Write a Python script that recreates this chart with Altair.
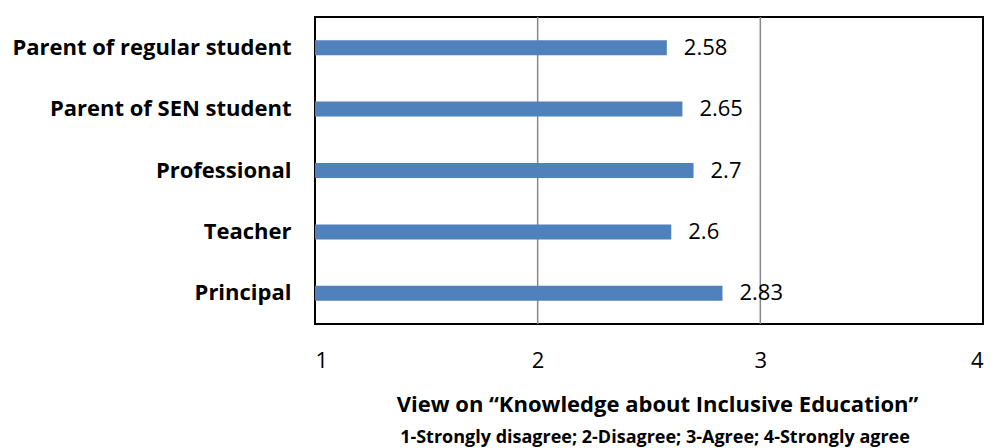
import altair as alt
import pandas as pd

categories = ["Parent of regular student", "Parent of SEN student", "Professional", "Teacher", "Principal"]
values = [2.58, 2.65, 2.7, 2.6, 2.83]
value_labels = ["2.58", "2.65", "2.7", "2.6", "2.83"]
grid_values = [2, 3]
tick_values = [1, 2, 3, 4]

df = pd.DataFrame({"group": categories, "value": values, "label": value_labels})
grid_df = pd.DataFrame({"g": grid_values})

FONT = "Open Sans"

xscale = alt.Scale(domain=[1, 4], nice=False, zero=False)
yscale = alt.Scale(domain=categories, paddingInner=0.75, paddingOuter=0.375)

base = alt.Chart(df)

grid = alt.Chart(grid_df).mark_rule(color="#868686", strokeWidth=1.5).encode(
    x=alt.X("g:Q", scale=xscale)
)

bars = base.mark_bar(color="#4F81BD", size=15).encode(
    x=alt.X("value:Q", scale=xscale,
            axis=alt.Axis(values=tick_values, grid=False, domain=False, ticks=False,
                          labelFont=FONT, labelFontSize=22, labelColor="black",
                          labelPadding=26, format="d",
                          title="View on \u201cKnowledge about Inclusive Education\u201d",
                          titleFont=FONT, titleFontSize=22, titleFontWeight="bold",
                          titleColor="black", titlePadding=23, titleX=342,
                          titleAlign="center")),
    x2=alt.datum(1),
    y=alt.Y("group:N", scale=yscale, sort=categories,
            axis=alt.Axis(title=None, domain=False, ticks=False, labelPadding=24,
                          labelFont=FONT, labelFontSize=22, labelFontWeight="bold",
                          labelColor="black", labelLimit=400)),
)

text = base.mark_text(align="left", baseline="middle", dx=17, font=FONT,
                      fontSize=22, color="black").encode(
    x=alt.X("value:Q", scale=xscale),
    y=alt.Y("group:N", scale=yscale, sort=categories),
    text="label:N",
)

chart = alt.layer(grid, bars, text).properties(
    width=668, height=307,
    autosize="none",
    background="white",
    padding={"left": 315, "top": 17, "right": 8, "bottom": 124},
    title=alt.TitleParams(
        text="1-Strongly disagree; 2-Disagree; 3-Agree; 4-Strongly agree",
        orient="bottom", anchor="middle", font=FONT, fontSize=18,
        fontWeight="bold", color="black", offset=14, dx=6,
    ),
).configure_view(stroke="black", strokeWidth=2)

chart.save("out.html", embed_options={"renderer": "svg", "actions": False})
